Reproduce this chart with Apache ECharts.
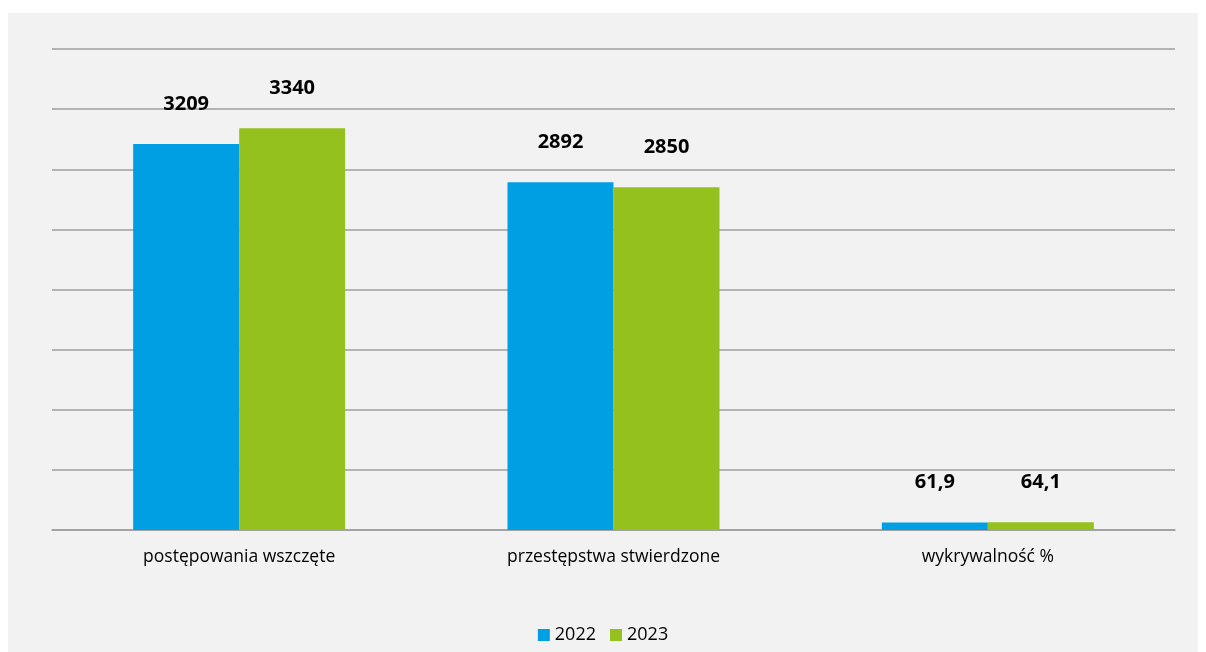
<!DOCTYPE html>
<html>
<head>
<meta charset="utf-8">
<script src="https://cdn.jsdelivr.net/npm/echarts@6/dist/echarts.min.js"></script>
<style>
  html, body { margin: 0; padding: 0; background: #ffffff; }
  #chart { position: absolute; left: 8px; top: 13px; width: 1190px; height: 639px; background: #f2f2f2; }
</style>
</head>
<body>
<div id="chart"></div>
<script>
// kategorie i serie
var categories = ['postępowania wszczęte', 'przestępstwa stwierdzone', 'wykrywalność %'];
var values2022 = [3209, 2892, 61.9];
var values2023 = [3340, 2850, 64.1];
var seriesNames = ['2022', '2023'];

var chart = echarts.init(document.getElementById('chart'));

function fmt(p) {
    return String(p.value).replace('.', ',');
}

var labelStyle = {
    show: true,
    position: 'top',
    distance: 30,
    fontFamily: '"Open Sans", "Noto Sans", sans-serif',
    fontSize: 20,
    fontWeight: 'bold',
    color: '#000000',
    formatter: fmt
};

var option = {
    animation: false,
    backgroundColor: '#f2f2f2',
    textStyle: { fontFamily: '"Open Sans", "Noto Sans", sans-serif' },
    legend: {
        bottom: 3,
        left: 'center',
        itemWidth: 12,
        itemHeight: 12,
        itemGap: 14,
        icon: 'rect',
        textStyle: { fontSize: 18, color: '#000000' },
        data: seriesNames
    },
    grid: { left: 44, right: 23, top: 36, bottom: 122 },
    xAxis: {
        type: 'category',
        data: categories,
        axisLine: { lineStyle: { color: '#9e9e9e', width: 1.5 } },
        axisTick: { show: false },
        axisLabel: { fontSize: 17.5, color: '#000000', margin: 18 }
    },
    yAxis: {
        type: 'value',
        min: 0,
        max: 4000,
        interval: 500,
        axisLine: { show: false },
        axisTick: { show: false },
        axisLabel: { show: false },
        splitLine: { lineStyle: { color: '#9e9e9e', width: 1.5 } }
    },
    series: [
        {
            name: seriesNames[0],
            type: 'bar',
            data: values2022,
            barWidth: 106,
            barGap: '0%',
            itemStyle: { color: '#009fe3' },
            label: labelStyle
        },
        {
            name: seriesNames[1],
            type: 'bar',
            data: values2023,
            barWidth: 106,
            itemStyle: { color: '#95c11f' },
            label: labelStyle
        }
    ]
};
chart.setOption(option);
</script>
</body>
</html>
